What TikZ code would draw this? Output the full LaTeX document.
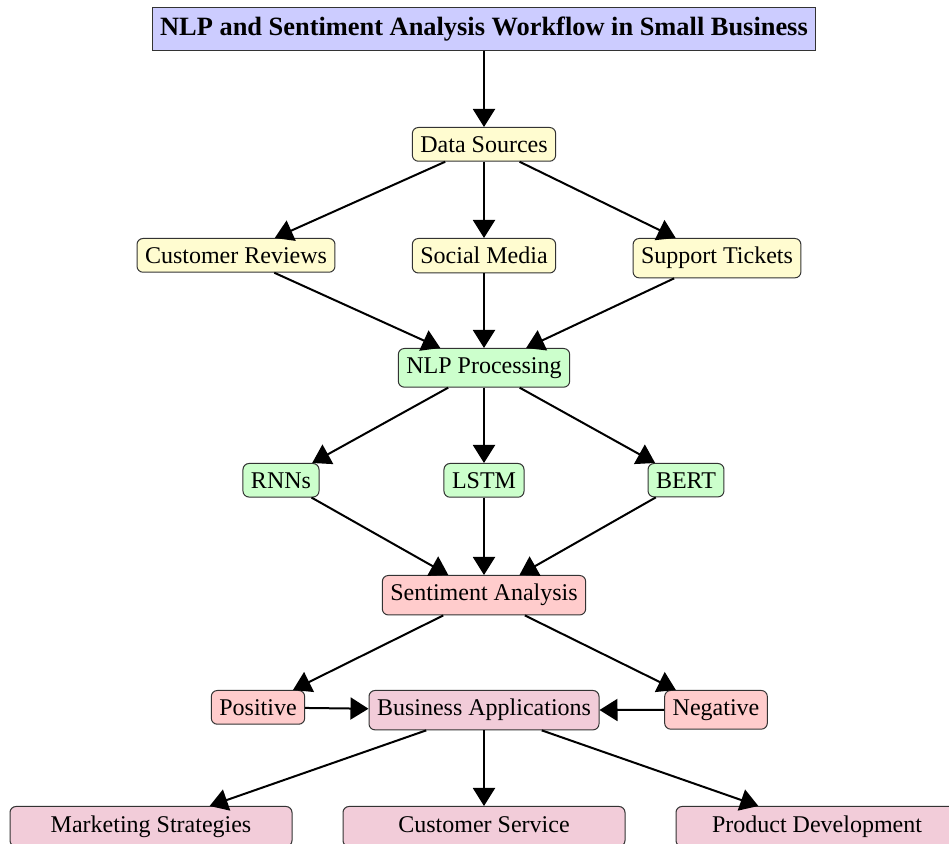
\documentclass[tikz,border=0pt]{standalone}
\usepackage{fontspec}
\setmainfont{Liberation Serif}
\usetikzlibrary{arrows.meta}
\definecolor{ylw}{RGB}{255,252,208}
\begin{document}
\begin{tikzpicture}[x=0.5pt,y=-0.5pt,
  box/.style={draw=black!80,line width=0.5pt,rounded corners=3pt,inner xsep=4pt,inner ysep=4.4pt,anchor=north,font=\fontsize{12}{14}\selectfont},
  src/.style={box,fill=ylw},
  nlp/.style={box,fill=green!20},
  sent/.style={box,fill=red!20},
  biz/.style={box,fill=purple!20},
  app/.style={biz,minimum width=141pt,text height=8.4pt,text depth=2.8pt},
  titlebox/.style={draw=black!80,line width=0.5pt,fill=blue!20,anchor=north,inner xsep=4pt,inner ysep=4.6pt,font=\fontsize{13.2}{16}\selectfont\bfseries},
  arr/.style={-{Triangle[length=9pt,width=11pt]},line width=1pt}]
\useasboundingbox (0,0) rectangle (949,844);
\node[titlebox] (title) at (484,7) {NLP and Sentiment Analysis Workflow in Small Business};
\node[src] (ds) at (484,127) {Data Sources};
\node[src] (cr) at (236,238) {Customer Reviews};
\node[src] (sm) at (484,238) {Social Media};
\node[src] (st) at (717,238) {Support Tickets};
\node[nlp] (np) at (484,348) {NLP Processing};
\node[nlp] (rnn) at (281,463) {RNNs};
\node[nlp] (lstm) at (484,463) {LSTM};
\node[nlp] (bert) at (686,463) {BERT};
\node[sent] (sa) at (484,575) {Sentiment Analysis};
\node[sent] (pos) at (258,690) {Positive};
\node[biz] (ba) at (484,690) {Business Applications};
\node[sent] (neg) at (716,690) {Negative};
\node[app] (ms) at (151,806) {Marketing Strategies};
\node[app] (cs) at (484,806) {Customer Service};
\node[app] (pd) at (817,806) {Product Development};
\draw[arr] (title) -- (ds);
\draw[arr] (ds) -- (cr);
\draw[arr] (ds) -- (sm);
\draw[arr] (ds) -- (st);
\draw[arr] (cr) -- (np);
\draw[arr] (sm) -- (np);
\draw[arr] (st) -- (np);
\draw[arr] (np) -- (rnn);
\draw[arr] (np) -- (lstm);
\draw[arr] (np) -- (bert);
\draw[arr] (rnn) -- (sa);
\draw[arr] (lstm) -- (sa);
\draw[arr] (bert) -- (sa);
\draw[arr] (sa) -- (pos);
\draw[arr] (sa) -- (neg);
\draw[arr] (pos) -- (ba);
\draw[arr] (neg) -- (ba);
\draw[arr] (ba) -- (ms);
\draw[arr] (ba) -- (cs);
\draw[arr] (ba) -- (pd);
\end{tikzpicture}
\end{document}
